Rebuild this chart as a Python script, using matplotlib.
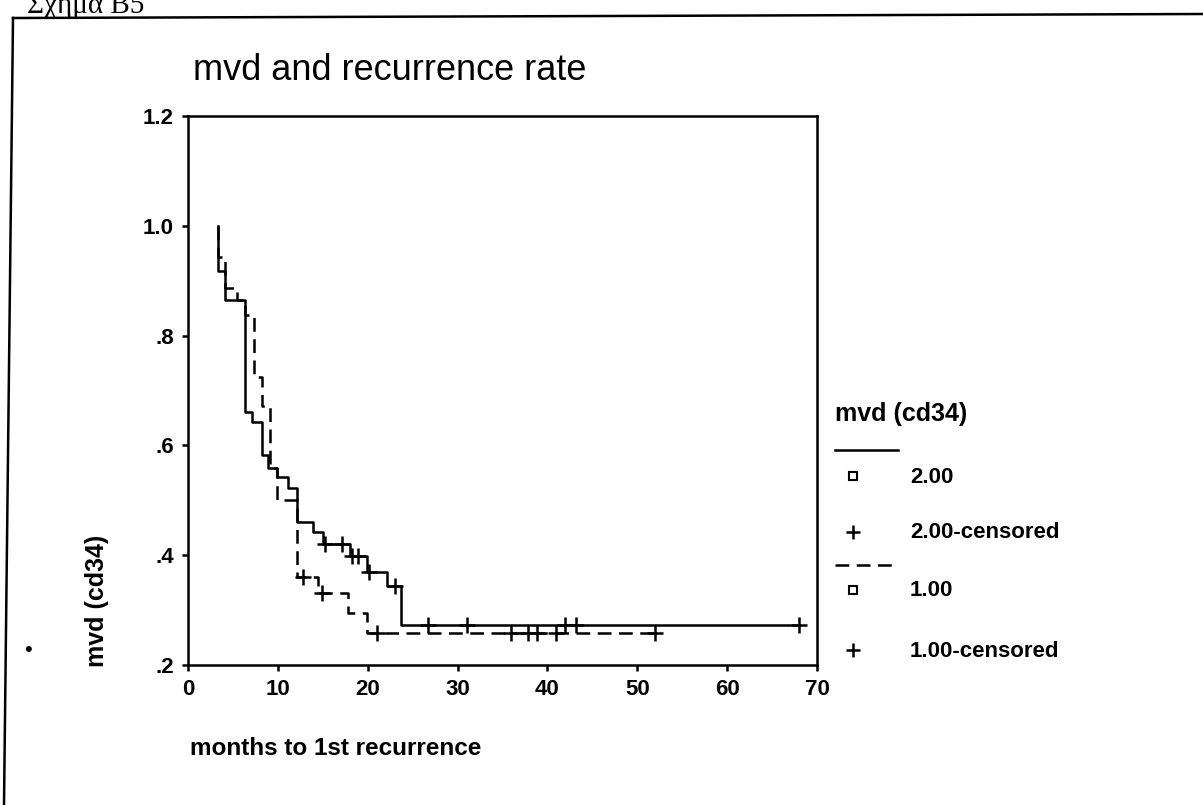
import numpy as np
import matplotlib
matplotlib.use("Agg")
import matplotlib.pyplot as plt
from matplotlib.ticker import FuncFormatter

plt.rcParams["font.family"] = ["Liberation Sans", "DejaVu Sans"]

# Kaplan-Meier steps: (event time, survival after the event)
start_time = 3.37
grp2_times = [3.37, 4.1, 6.3, 7.1, 8.2, 8.9, 9.9, 11.1, 12.1, 13.9, 15.0, 18.0, 19.9, 22.1, 23.7]
grp2_surv = [0.918, 0.865, 0.661, 0.643, 0.582, 0.559, 0.543, 0.522, 0.461, 0.443, 0.42, 0.399, 0.37, 0.343, 0.273]
grp2_end = 68.0
grp2_censored = [15.3, 17.1, 18.3, 18.9, 20.1, 23.0, 26.7, 31.0, 42.0, 43.2, 68.0]

grp1_times = [3.37, 4.1, 5.4, 6.3, 7.3, 8.2, 9.1, 9.9, 12.1, 14.5, 17.8, 19.9]
grp1_surv = [0.944, 0.886, 0.865, 0.837, 0.725, 0.671, 0.559, 0.50, 0.361, 0.331, 0.294, 0.258]
grp1_end = 52.0
grp1_censored = [12.8, 14.9, 21.0, 36.0, 37.8, 38.8, 41.0, 52.0]

x_ticks = [0, 10, 20, 30, 40, 50, 60, 70]
y_ticks = [0.2, 0.4, 0.6, 0.8, 1.0, 1.2]

W, H = 1203, 805
LW = 1.8
DASH = (0, (5.5, 3))


def step_arrays(times, surv, end):
    x = np.array([start_time] + list(times) + [end])
    y = np.array([1.0] + list(surv) + [surv[-1]])
    return x, y


def value_at(times, surv, t):
    idx = np.searchsorted(np.array(times), t, side="right")
    return 1.0 if idx == 0 else surv[idx - 1]


def fmt_tick(v, pos):
    s = f"{v:.1f}"
    return s[1:] if s.startswith("0") else s


fig = plt.figure(figsize=(W / 100, H / 100), dpi=100)
ax = fig.add_axes([188 / W, 1 - 665 / H, 629 / W, 549 / H])

for times, surv, end, cens, ls in [
    (grp2_times, grp2_surv, grp2_end, grp2_censored, "-"),
    (grp1_times, grp1_surv, grp1_end, grp1_censored, DASH),
]:
    x, y = step_arrays(times, surv, end)
    ax.step(x, y, where="post", color="black", lw=LW, linestyle=ls)
    cy = [value_at(times, surv, t) for t in cens]
    ax.plot(cens, cy, linestyle="none", marker="+", color="black",
            markersize=11, markeredgewidth=1.8)

ax.set_xlim(0, 70)
ax.set_ylim(0.2, 1.2)
ax.set_xticks(x_ticks)
ax.set_yticks(y_ticks)
ax.yaxis.set_major_formatter(FuncFormatter(fmt_tick))
ax.tick_params(direction="out", length=4, width=1.8, labelsize=16, pad=6)
for lab in ax.get_xticklabels() + ax.get_yticklabels():
    lab.set_fontweight("bold")
for sp in ax.spines.values():
    sp.set_linewidth(1.8)

# overlay in pixel coordinates for the page furniture
ov = fig.add_axes([0, 0, 1, 1], facecolor="none")
ov.set_xlim(0, W)
ov.set_ylim(H, 0)
ov.axis("off")

ov.plot([13, W], [18, 14], color="black", lw=1.8)
ov.plot([13, 4], [18, H], color="black", lw=1.8)
ov.text(27, 13, "Σχήμα Β5", fontsize=21, family=["Liberation Serif", "DejaVu Serif"],
        va="baseline", ha="left")

ov.text(193, 70, "mvd and recurrence rate", fontsize=26, va="center", ha="left")
ov.text(190, 748, "months to 1st recurrence", fontsize=17.5, fontweight="bold",
        va="center", ha="left")
ov.text(97, 667, "mvd (cd34)", fontsize=18, fontweight="bold", rotation=90,
        va="bottom", ha="center")
ov.text(28, 650, "•", fontsize=16, va="center", ha="center")

# legend
ov.text(835, 414, "mvd (cd34)", fontsize=18, fontweight="bold", va="center", ha="left")
ov.plot([835, 898], [450, 450], color="black", lw=LW)
ov.plot([853], [476], marker="s", markersize=6, markerfacecolor="white",
        markeredgecolor="black", markeredgewidth=1.5)
ov.text(910, 477, "2.00", fontsize=16, fontweight="bold", va="center", ha="left")
ov.plot([853], [532], marker="+", markersize=10, color="black", markeredgewidth=1.8)
ov.text(910, 532, "2.00-censored", fontsize=16, fontweight="bold", va="center", ha="left")
ov.plot([835, 898], [565, 565], color="black", lw=LW, linestyle=DASH)
ov.plot([853], [590], marker="s", markersize=6, markerfacecolor="white",
        markeredgecolor="black", markeredgewidth=1.5)
ov.text(910, 590, "1.00", fontsize=16, fontweight="bold", va="center", ha="left")
ov.plot([853], [650], marker="+", markersize=10, color="black", markeredgewidth=1.8)
ov.text(910, 651, "1.00-censored", fontsize=16, fontweight="bold", va="center", ha="left")

fig.savefig("out.png", dpi=100)
